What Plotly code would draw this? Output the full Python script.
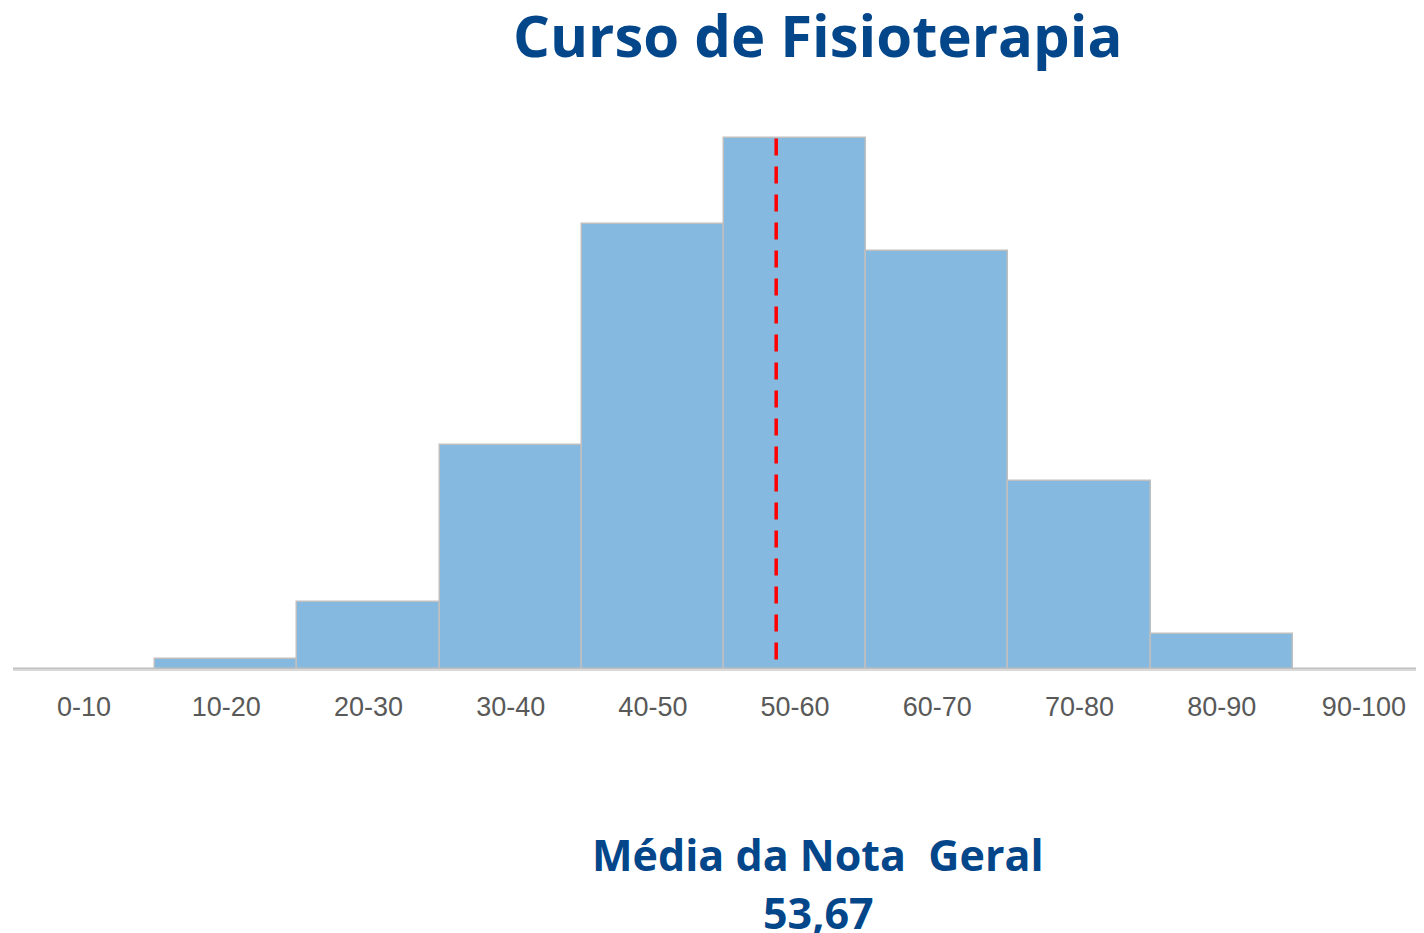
import plotly.graph_objects as go

categories = ["0-10", "10-20", "20-30", "30-40", "40-50", "50-60", "60-70", "70-80", "80-90", "90-100"]
values = [0, 0.5, 3.5, 11.7, 23.2, 27.7, 21.8, 9.8, 1.8, 0]
mean_value = 53.67
mean_label = "53,67"
title_text = "Curso de Fisioterapia"
mean_title = "Média da Nota  Geral"

TEXT_BLUE = "#04468A"
TITLE_FONT = "Open Sans"
TICK_FONT = "Liberation Sans"

x_pos = list(range(len(categories)))
# position of the mean on the category axis (bins 10 wide, centered on integer positions)
mean_x = mean_value / 10 - 0.5

# page offset (browser body margin)
OFF = 8
FIG_W, FIG_H = 1424 - OFF, 933 - OFF

fig = go.Figure()
fig.add_trace(go.Bar(
    x=x_pos, y=values, width=1,
    marker=dict(color="#85B9DF", line=dict(color="#BFBFBF", width=1.5)),
    hoverinfo="skip",
))
fig.add_trace(go.Scatter(
    x=[mean_x, mean_x], y=[0.5, max(values)],
    mode="lines",
    line=dict(color="#FF0000", width=3.5, dash="17px,11px"),
    hoverinfo="skip",
))

top_px, bottom_px = 101 - OFF, 669 - OFF
h = bottom_px - top_px
left_px, width_px = 13 - OFF, 1411


def py(ypage):
    return (bottom_px - (ypage - OFF)) / h


def px(xpage):
    return ((xpage - OFF) - left_px) / width_px


fig.add_annotation(text="<b>" + title_text + "</b>", x=px(817), y=py(34), xref="paper", yref="paper",
                   showarrow=False, font=dict(family=TITLE_FONT, size=58, color=TEXT_BLUE),
                   xanchor="center", yanchor="middle")
fig.add_annotation(text="<b>" + mean_title + "</b>", x=px(818), y=py(854), xref="paper", yref="paper",
                   showarrow=False, font=dict(family=TITLE_FONT, size=43, color=TEXT_BLUE),
                   xanchor="center", yanchor="middle")
fig.add_annotation(text="<b>" + mean_label + "</b>", x=px(818), y=py(912), xref="paper", yref="paper",
                   showarrow=False, font=dict(family=TITLE_FONT, size=43, color=TEXT_BLUE),
                   xanchor="center", yanchor="middle")

fig.update_layout(
    width=FIG_W, height=FIG_H,
    margin=dict(l=left_px, r=0, t=top_px, b=FIG_H - bottom_px, pad=0),
    plot_bgcolor="white", paper_bgcolor="white",
    showlegend=False, bargap=0,
    xaxis=dict(
        tickmode="array", tickvals=x_pos, ticktext=categories,
        range=[-0.5, -0.5 + width_px / 142.2],
        showgrid=False, zeroline=False,
        showline=True, linecolor="#D9D9D9", linewidth=2,
        ticks="", tickfont=dict(family=TICK_FONT, size=27, color="#595959"),
        ticklabelstandoff=13,
    ),
    yaxis=dict(
        range=[0, h / 19.17], visible=False, showgrid=False, zeroline=False,
    ),
)

fig.write_html("out.html")
